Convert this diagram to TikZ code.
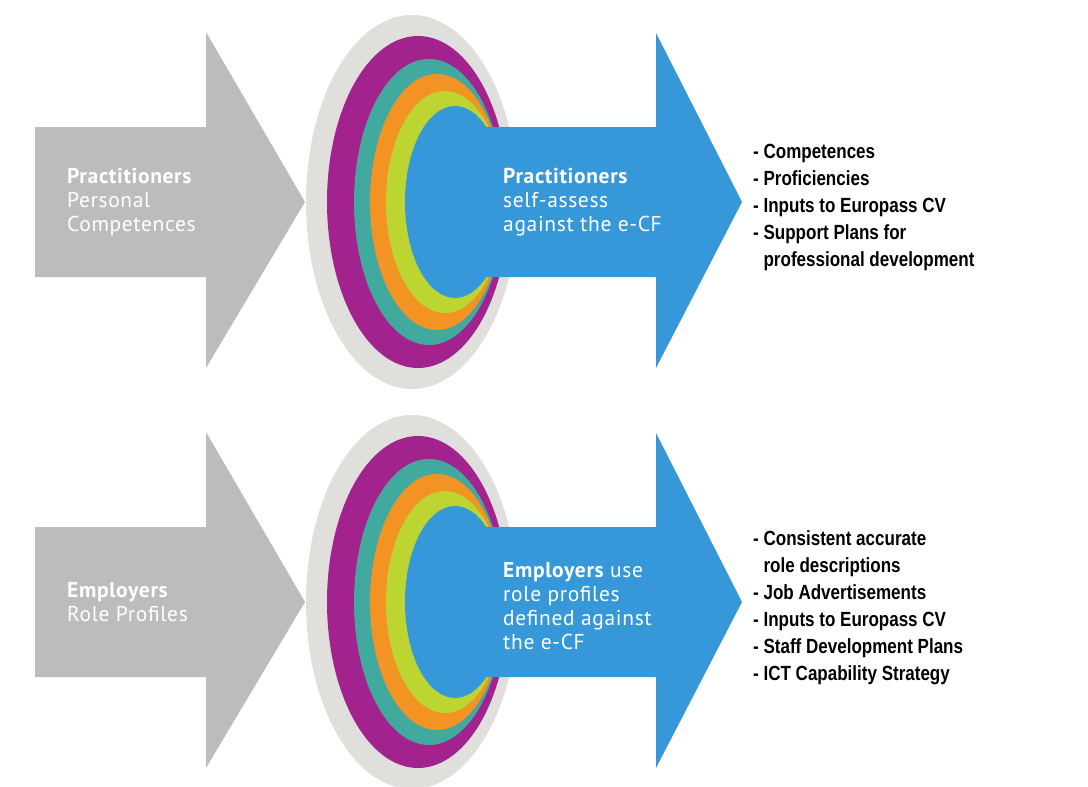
\documentclass[tikz,border=0pt]{standalone}
\usepackage{fontspec}
\newfontfamily\sqfont{PT Sans}[LetterSpace=3]
\newfontfamily\condfont{Liberation Sans}[FakeStretch=0.83]
\definecolor{arrgray}{HTML}{BBBCBE}
\definecolor{halo}{HTML}{E1DFDC}
\definecolor{ringpurple}{HTML}{A3238E}
\definecolor{ringteal}{HTML}{41A99E}
\definecolor{ringorange}{HTML}{F39323}
\definecolor{ringlime}{HTML}{BDD531}
\definecolor{arrblue}{HTML}{3698D8}
\tikzset{
  whitetext/.style={text=white, anchor=base west, inner sep=0pt, align=left,
    font=\sqfont\fontsize{21.5}{24}\selectfont},
  listtext/.style={text=black, anchor=base west, inner sep=0pt, align=left,
    font=\condfont\bfseries\fontsize{20.5}{27}\selectfont},
}
% one row: #1 = vertical centre
\newcommand\drawrow[2]{%
  \begin{scope}[shift={(0,#1)}]
    % grey input arrow
    \fill[arrgray] (35,-75) -- (206,-75) -- (206,-170) -- (305,0) -- (206,166) -- (206,75) -- (35,75) -- cycle;
    % rings
    \fill[halo] (412,0) ellipse [x radius=106pt, y radius=187pt];
    \fill[ringpurple] (418,0) ellipse [x radius=91pt, y radius=166pt];
    \fill[ringteal] (429,0) ellipse [x radius=75pt, y radius=143pt];
    \fill[ringorange] (437,0) ellipse [x radius=67pt, y radius=128pt];
    \fill[ringlime] (445,0) ellipse [x radius=59pt, y radius=111pt];
    \fill[arrblue] (455,0) ellipse [x radius=50pt, y radius=96pt];
    % blue output arrow
    \fill[arrblue] (455,-75) -- (656,-75) -- (656,-169) -- (742,0) -- (656,166) -- (656,75) -- (455,75) -- cycle;
    \coordinate (#2) at (0,0);
  \end{scope}}

\begin{document}
\begin{tikzpicture}[x=1pt,y=-1pt]
\useasboundingbox[fill=white] (0,0) rectangle (1088,787);

\drawrow{202}{rowA}
\drawrow{602}{rowB}

% top row texts (anchor = baseline of last line)
\node[whitetext] (inA) at (67,231) {\bfseries Practitioners\\Personal\\Competences};
\node[whitetext] (outA) at (503,231) {\bfseries Practitioners\\self-assess\\against the e-CF};
\node[listtext] (listA) at (753,266) {- Competences\\- Proficiencies\\- Inputs to Europass CV\\- Support Plans for\\\hphantom{- }professional development};

% bottom row texts
\node[whitetext] (inB) at (67,621) {\bfseries Employers\\Role Profiles};
\node[whitetext] (outB) at (503,649) {{\bfseries Employers} use\\role profiles\\defined against\\the e-CF};
\node[listtext] (listB) at (753,680) {- Consistent accurate\\\hphantom{- }role descriptions\\- Job Advertisements\\- Inputs to Europass CV\\- Staff Development Plans\\- ICT Capability Strategy};
\end{tikzpicture}
\end{document}
